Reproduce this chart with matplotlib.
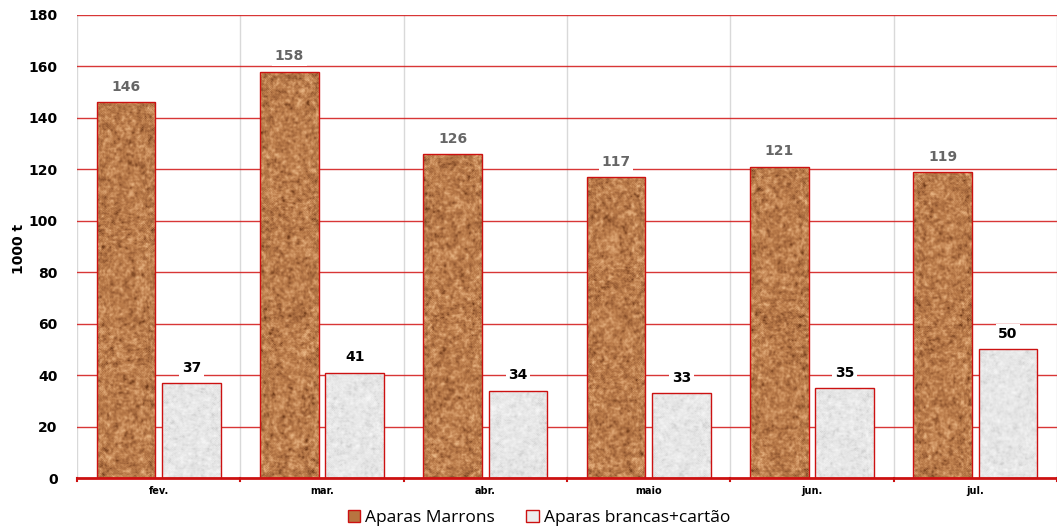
import matplotlib.pyplot as plt
import numpy as np
from matplotlib.colors import LinearSegmentedColormap
from matplotlib.patches import Patch

months = ["fev.", "mar.", "abr.", "maio", "jun.", "jul."]
marrons = [146, 158, 126, 117, 121, 119]
brancas = [37, 41, 34, 33, 35, 50]
series_names = ["Aparas Marrons", "Aparas brancas+cartão"]

RED = "#cc1111"

cork = LinearSegmentedColormap.from_list(
    "cork", ["#6e3a18", "#a0643a", "#bb7c4a", "#d49a68", "#eab886"])
paper = LinearSegmentedColormap.from_list(
    "paper", ["#cfcfcf", "#e2e2e2", "#ececec", "#f6f6f6"])

rng = np.random.default_rng(7)


def smooth(z, n):
    for _ in range(n):
        z = (z + np.roll(z, 1, 0) + np.roll(z, -1, 0)
             + np.roll(z, 1, 1) + np.roll(z, -1, 1)) / 5
    return z


def grain(h, w):
    # fine speckle over a blotchy base, roughly one cell per pixel
    fine = smooth(rng.random((h, w)), 1)
    blot = smooth(rng.random((h, w)), 6)
    z = 0.55 * (fine - fine.mean()) / fine.std() + 0.45 * (blot - blot.mean()) / blot.std()
    return np.clip((z + 2.2) / 4.4, 0, 1)


def texture_bars(ax, bars, cmap):
    for b in bars:
        x0, y0 = b.get_x(), b.get_y()
        w, h = b.get_width(), b.get_height()
        img = ax.imshow(grain(max(int(h * 2.6), 4), 60), cmap=cmap,
                        extent=(x0, x0 + w, y0, y0 + h), aspect="auto",
                        origin="lower", zorder=2.5, interpolation="bilinear")
        img.set_clip_path(b)


fig = plt.figure(figsize=(10.57, 5.30), dpi=100)
ax = fig.add_axes([0.0728, 0.098, 0.9272, 0.8737])

x = np.arange(len(months))
bw = 0.36
b1 = ax.bar(x - 0.2, marrons, bw, facecolor="#b87440", edgecolor=RED,
            linewidth=1, zorder=2)
b2 = ax.bar(x + 0.2, brancas, bw, facecolor="#ececec", edgecolor=RED,
            linewidth=1, zorder=2)
texture_bars(ax, b1, cork)
texture_bars(ax, b2, paper)
# redraw edges above the texture
for b in list(b1) + list(b2):
    b.set_zorder(3)
    b.set_facecolor("none")

for xi, v in zip(x - 0.2, marrons):
    ax.annotate(str(v), (xi, v), xytext=(0, 6), textcoords="offset points",
                ha="center", va="bottom", fontsize=10, fontweight="bold",
                color="#666666", zorder=4,
                bbox=dict(facecolor="white", edgecolor="none", pad=2))
for xi, v in zip(x + 0.2, brancas):
    ax.annotate(str(v), (xi, v), xytext=(0, 6), textcoords="offset points",
                ha="center", va="bottom", fontsize=10, fontweight="bold",
                color="black", zorder=4,
                bbox=dict(facecolor="white", edgecolor="none", pad=2))

ax.set_xlim(-0.5, len(months) - 0.5)
ax.set_ylim(0, 180)
ax.set_yticks(range(0, 181, 20))
ax.set_xticks(x)
ax.set_xticklabels(months, fontsize=7, fontweight="bold")
for t in ax.get_yticklabels():
    t.set_fontweight("bold")
    t.set_fontsize(10)
ax.tick_params(axis="y", length=0, pad=14)
ax.tick_params(axis="x", length=0, pad=6)

# red horizontal grid, light grey separators between months
for yv in range(20, 181, 20):
    ax.axhline(yv, color="#d42020", lw=1, alpha=0.9, zorder=1)
for xv in np.arange(-0.5, len(months) - 0.4, 1.0):
    ax.axvline(xv, color="#d9d9d9", lw=1, zorder=0.5)
    ax.plot([xv, xv], [0, -1.2], color=RED, lw=1.5, clip_on=False, zorder=3)

for s in ["top", "right", "left"]:
    ax.spines[s].set_visible(False)
ax.spines["bottom"].set_color(RED)
ax.spines["bottom"].set_linewidth(2)
ax.spines["bottom"].set_zorder(3)

fig.text(0.018, 0.53, "1000 t", rotation=90, ha="center", va="center",
         fontsize=10, fontweight="bold")

handles = [Patch(facecolor="#b87440", edgecolor=RED, label=series_names[0]),
           Patch(facecolor="#ececec", edgecolor=RED, label=series_names[1])]
fig.legend(handles=handles, loc="center", bbox_to_anchor=(0.51, 0.022),
           ncol=2, frameon=False, prop={"family": "Open Sans", "size": 12.5},
           handlelength=0.7, handleheight=0.7, handletextpad=0.3,
           columnspacing=1.8)

fig.savefig("out.png", dpi=100)
